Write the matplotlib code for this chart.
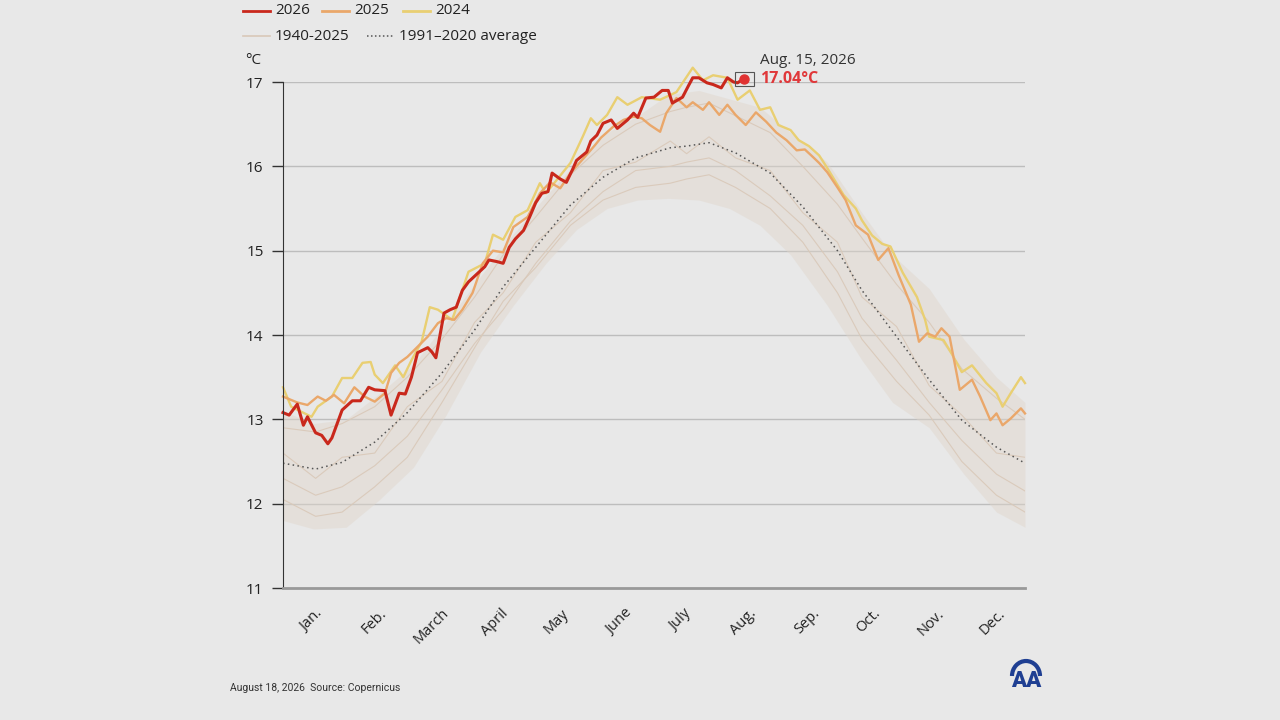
import matplotlib
matplotlib.use("Agg")
import matplotlib.pyplot as plt
from matplotlib.lines import Line2D
from matplotlib.patches import Rectangle, Arc

plt.rcParams['font.family'] = ['Open Sans', 'DejaVu Sans']

# --- datos (dia del año, °C) ---
dias_2026 = [1, 4, 8, 11, 13, 17, 20, 23, 25, 30, 35, 39, 43, 46, 51, 54, 58, 61, 64, 67,
             72, 74, 76, 80, 83, 86, 89, 92, 96, 100, 102, 106, 109, 112, 115, 119, 122,
             125, 128, 131, 133, 137, 140, 143, 145, 150, 152, 155, 158, 162, 165, 170,
             173, 175, 179, 183, 187, 190, 192, 197, 200, 202, 205, 209, 212, 216, 219,
             222, 224, 227]
temp_2026 = [13.08, 13.05, 13.18, 12.93, 13.03, 12.84, 12.81, 12.71, 12.78, 13.11, 13.22,
             13.22, 13.38, 13.35, 13.34, 13.05, 13.31, 13.30, 13.50, 13.79, 13.85, 13.80,
             13.73, 14.26, 14.30, 14.33, 14.53, 14.63, 14.72, 14.81, 14.89, 14.87, 14.85,
             15.04, 15.14, 15.24, 15.40, 15.57, 15.68, 15.70, 15.92, 15.85, 15.81, 15.96,
             16.07, 16.17, 16.30, 16.37, 16.51, 16.55, 16.45, 16.55, 16.63, 16.58, 16.81,
             16.82, 16.90, 16.90, 16.75, 16.82, 16.96, 17.05, 17.05, 16.99, 16.97, 16.93,
             17.05, 17.00, 16.99, 17.04]

dias_2025 = [1, 8, 13, 18, 22, 26, 31, 36, 41, 46, 51, 54, 58, 62, 67, 72, 77, 81, 85, 89,
             94, 99, 104, 109, 114, 121, 127, 132, 137, 142, 149, 154, 157, 163, 168, 173,
             177, 181, 186, 189, 194, 199, 202, 207, 210, 215, 219, 223, 228, 233, 238,
             243, 248, 253, 257, 261, 264, 268, 273, 277, 282, 288, 293, 298, 303, 309,
             313, 317, 321, 324, 328, 333, 339, 343, 348, 351, 354, 358, 363, 365]
temp_2025 = [13.27, 13.20, 13.17, 13.27, 13.22, 13.29, 13.19, 13.38, 13.27, 13.21, 13.31,
             13.55, 13.67, 13.74, 13.86, 13.98, 14.14, 14.20, 14.18, 14.30, 14.50, 14.85,
             15.00, 14.98, 15.28, 15.40, 15.68, 15.81, 15.74, 15.92, 16.11, 16.25, 16.34,
             16.47, 16.55, 16.59, 16.57, 16.49, 16.41, 16.63, 16.81, 16.70, 16.76, 16.67,
             16.76, 16.61, 16.73, 16.61, 16.49, 16.64, 16.53, 16.40, 16.31, 16.19, 16.20,
             16.11, 16.04, 15.93, 15.75, 15.60, 15.30, 15.19, 14.89, 15.03, 14.71, 14.36,
             13.92, 14.02, 13.98, 14.08, 13.98, 13.35, 13.47, 13.27, 12.99, 13.07, 12.93,
             13.01, 13.13, 13.07]

dias_2024 = [1, 5, 15, 18, 25, 30, 35, 40, 44, 46, 50, 56, 60, 64, 69, 73, 77, 84, 92, 100,
             104, 109, 115, 121, 127, 130, 142, 148, 152, 155, 160, 165, 170, 177, 186,
             194, 202, 207, 212, 219, 224, 230, 235, 240, 244, 250, 254, 259, 264, 268,
             276, 282, 285, 290, 295, 299, 305, 312, 316, 318, 325, 329, 334, 339, 346,
             351, 354, 358, 363, 365]
temp_2024 = [13.38, 13.15, 13.03, 13.15, 13.27, 13.49, 13.49, 13.67, 13.68, 13.53, 13.43,
             13.64, 13.50, 13.70, 13.92, 14.33, 14.30, 14.18, 14.75, 14.85, 15.19, 15.13,
             15.40, 15.48, 15.80, 15.68, 16.04, 16.35, 16.57, 16.49, 16.61, 16.82, 16.73,
             16.82, 16.79, 16.88, 17.17, 17.02, 17.08, 17.05, 16.79, 16.90, 16.67, 16.70,
             16.49, 16.43, 16.31, 16.24, 16.13, 15.98, 15.66, 15.50, 15.36, 15.18, 15.08,
             15.05, 14.74, 14.45, 14.18, 13.98, 13.94, 13.78, 13.56, 13.64, 13.43, 13.31,
             13.15, 13.31, 13.50, 13.43]

dias_media = [1, 17, 30, 46, 62, 79, 95, 109, 125, 142, 158, 174, 191, 199, 210, 223, 240,
              256, 273, 285, 302, 318, 334, 351, 365]
temp_media = [12.48, 12.41, 12.49, 12.73, 13.08, 13.55, 14.06, 14.57, 15.04, 15.54, 15.87,
              16.10, 16.22, 16.24, 16.28, 16.16, 15.92, 15.52, 15.00, 14.53, 13.98, 13.47,
              12.99, 12.67, 12.48]

# algunos años del rango 1940-2025 (mismos dias que la media)
historicos = [
    [12.05, 11.85, 11.90, 12.20, 12.55, 13.20, 13.85, 14.40, 14.80, 15.30, 15.60, 15.75,
     15.80, 15.85, 15.90, 15.75, 15.50, 15.10, 14.50, 13.95, 13.45, 13.05, 12.50, 12.10, 11.90],
    [12.30, 12.10, 12.20, 12.45, 12.80, 13.35, 13.90, 14.30, 14.85, 15.35, 15.70, 15.95,
     16.00, 16.05, 16.10, 15.95, 15.65, 15.30, 14.75, 14.20, 13.70, 13.20, 12.75, 12.35, 12.15],
    [12.60, 12.30, 12.55, 12.60, 13.15, 13.45, 14.15, 14.50, 15.10, 15.45, 15.95, 16.05,
     16.30, 16.15, 16.35, 16.10, 15.95, 15.45, 15.10, 14.45, 14.10, 13.40, 13.05, 12.60, 12.55],
    [12.90, 12.85, 12.95, 13.15, 13.50, 13.95, 14.45, 14.95, 15.40, 15.90, 16.25, 16.50,
     16.65, 16.70, 16.75, 16.60, 16.40, 16.00, 15.55, 15.15, 14.60, 14.15, 13.60, 13.25, 13.00],
]

# envolvente del rango 1940-2025
dias_env = [1, 16, 32, 48, 65, 81, 98, 114, 130, 145, 160, 175, 190, 205, 220, 235, 250,
            268, 285, 300, 318, 335, 351, 365]
env_min = [11.80, 11.70, 11.72, 12.04, 12.43, 13.05, 13.80, 14.35, 14.85, 15.25, 15.50,
           15.60, 15.62, 15.60, 15.50, 15.30, 14.95, 14.35, 13.70, 13.20, 12.90, 12.35,
           11.90, 11.72]
env_max = [13.10, 12.95, 13.00, 13.30, 13.65, 14.15, 14.70, 15.20, 15.65, 16.05, 16.40,
           16.60, 16.85, 16.90, 16.80, 16.70, 16.40, 16.05, 15.45, 14.95, 14.55, 13.95,
           13.50, 13.20]

meses = ['Jan.', 'Feb.', 'March', 'April', 'May', 'June', 'July', 'Aug.', 'Sep.', 'Oct.',
         'Nov.', 'Dec.']
dias_meses = [15, 46, 74, 105, 135, 166, 196, 227, 258, 288, 319, 349]

fondo = '#e8e8e8'
c_2026 = '#c9281c'
c_2025 = '#eaa76a'
c_2024 = '#e9cf72'
c_hist = '#d9c8b8'

fig = plt.figure(figsize=(12.8, 7.2), dpi=100, facecolor=fondo)
ax = fig.add_axes([283 / 1280, 1 - 588 / 720, (1025 - 283) / 1280, (588 - 82) / 720])
ax.set_facecolor(fondo)

ax.fill_between(dias_env, env_min, env_max, color='#e0d6cb', alpha=0.45, lw=0)
for serie in historicos:
    ax.plot(dias_media, serie, color=c_hist, lw=0.8, alpha=0.9)
ax.plot(dias_media, temp_media, color='#555555', lw=1.1, ls=(0, (1, 2.2)))

ax.plot(dias_2024, temp_2024, color=c_2024, lw=1.7, clip_on=False)
ax.plot(dias_2025, temp_2025, color=c_2025, lw=1.7, clip_on=False)
ax.plot(dias_2026, temp_2026, color=c_2026, lw=2.2, clip_on=False, solid_joinstyle='round')

# punto final
d_fin, t_fin = dias_2026[-1], temp_2026[-1]
ax.plot([d_fin], [t_fin], 'o', color='#e03232', ms=6.5, clip_on=False, zorder=5)
ax.add_patch(Rectangle((d_fin - 4.4, t_fin - 0.085), 9.3, 0.166, fill=False,
                       edgecolor='#555555', lw=0.8, clip_on=False, zorder=6))
ax.annotate('Aug. 15, 2026', (d_fin, t_fin), xytext=(12, 13), textcoords='offset points',
            ha='left', va='center', fontsize=11, color='#333333', annotation_clip=False)
ax.annotate(f'{t_fin:.2f}°C', (d_fin, t_fin), xytext=(12, 0), textcoords='offset points',
            ha='left', va='center', fontsize=11.5, color='#e0383a', fontweight='bold',
            annotation_clip=False)

ax.set_xlim(1, 365)
ax.set_ylim(11, 17)
ax.set_yticks(range(11, 18))
ax.set_yticklabels([str(v) for v in range(11, 18)], fontsize=11, color='#222222')
ax.set_xticks(dias_meses)
ax.set_xticklabels(meses, rotation=45, ha='center', fontsize=10.5, color='#222222')
ax.tick_params(axis='x', length=0, pad=13)
ax.tick_params(axis='y', length=8, width=1, color='#333333', pad=6)
for v in range(12, 18):
    ax.axhline(v, color='#bdbdbd', lw=1, zorder=0)

for lado in ['top', 'right']:
    ax.spines[lado].set_visible(False)
ax.spines['left'].set_color('#333333')
ax.spines['bottom'].set_color('#999999')
ax.spines['bottom'].set_linewidth(2)

# leyenda manual
def px(x, y):
    return x / 1280, 1 - y / 720

def item(x0, y, color, texto, ls='-', lw=2.0):
    a, b = px(x0, y)
    c, _ = px(x0 + 27, y)
    fig.add_artist(Line2D([a, c], [b, b], color=color, lw=lw, ls=ls, transform=fig.transFigure))
    tx, ty = px(x0 + 32, y)
    fig.text(tx, ty, texto, ha='left', va='center', fontsize=11, color='#222222')

item(243, 11, c_2026, '2026')
item(322, 11, c_2025, '2025')
item(403, 11, c_2024, '2024')
item(243, 36, c_hist, '1940-2025', lw=1.2)
item(367, 36, '#555555', '1991–2020 average', ls=(0, (1, 1.6)), lw=1.1)

fig.text(*px(253, 61), '°C', ha='center', va='center', fontsize=11, color='#222222')
fig.text(*px(230, 688), 'August 18, 2026  Source: Copernicus', ha='left', va='center',
         fontsize=7.5, color='#333333', family=['Roboto', 'DejaVu Sans'])

# logo
fig.text(*px(1026, 681), 'AA', ha='center', va='center', fontsize=16, color='#1f3f92',
         fontweight='heavy', family=['Roboto', 'DejaVu Sans'])
fig.add_artist(Arc(px(1026, 676), 28 / 1280, 30 / 720, theta1=0, theta2=180, lw=3,
                   color='#1f3f92', transform=fig.transFigure))

fig.savefig('out.png', dpi=100, facecolor=fondo)
